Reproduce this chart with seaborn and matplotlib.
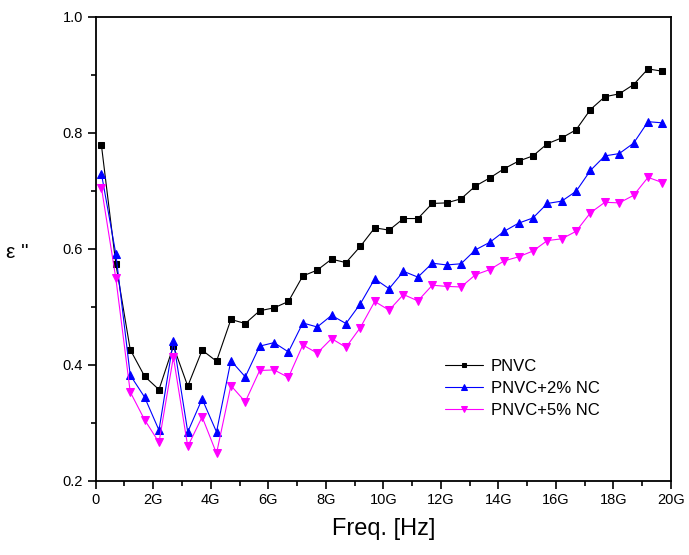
import matplotlib
matplotlib.use("Agg")
import matplotlib.pyplot as plt
from matplotlib.ticker import MultipleLocator, FuncFormatter
import seaborn as sns
import pandas as pd

# Frequency in GHz
freq = [0.2, 0.7, 1.2, 1.7, 2.2, 2.7, 3.2, 3.7, 4.2, 4.7,
        5.2, 5.7, 6.2, 6.7, 7.2, 7.7, 8.2, 8.7, 9.2, 9.7,
        10.2, 10.7, 11.2, 11.7, 12.2, 12.7, 13.2, 13.7, 14.2, 14.7,
        15.2, 15.7, 16.2, 16.7, 17.2, 17.7, 18.2, 18.7, 19.2, 19.7]

pnvc = [0.778, 0.574, 0.426, 0.380, 0.357, 0.432, 0.363, 0.425, 0.406, 0.478,
        0.471, 0.493, 0.498, 0.509, 0.553, 0.563, 0.582, 0.576, 0.604, 0.636,
        0.632, 0.652, 0.652, 0.678, 0.679, 0.686, 0.708, 0.722, 0.738, 0.751,
        0.760, 0.781, 0.791, 0.805, 0.840, 0.862, 0.867, 0.883, 0.910, 0.906]

pnvc_2 = [0.729, 0.591, 0.382, 0.344, 0.287, 0.441, 0.284, 0.341, 0.284, 0.407,
          0.379, 0.432, 0.438, 0.422, 0.472, 0.465, 0.485, 0.471, 0.505, 0.548,
          0.531, 0.561, 0.551, 0.575, 0.572, 0.574, 0.598, 0.611, 0.630, 0.644,
          0.653, 0.678, 0.682, 0.699, 0.735, 0.760, 0.764, 0.782, 0.819, 0.817]

pnvc_5 = [0.705, 0.549, 0.353, 0.305, 0.266, 0.413, 0.259, 0.310, 0.247, 0.364,
          0.336, 0.390, 0.391, 0.378, 0.434, 0.420, 0.445, 0.430, 0.464, 0.509,
          0.494, 0.521, 0.510, 0.537, 0.535, 0.534, 0.555, 0.564, 0.579, 0.586,
          0.596, 0.614, 0.617, 0.630, 0.662, 0.680, 0.679, 0.692, 0.723, 0.714]

labels = ["PNVC", "PNVC+2% NC", "PNVC+5% NC"]
colors = ["#000000", "#0000ff", "#ff00ff"]
markers = ["s", "^", "v"]
msizes = [4.0, 5.5, 5.5]

sns.set_style("ticks")
plt.rcParams["font.family"] = ["Liberation Sans", "DejaVu Sans"]
plt.rcParams["text.color"] = "black"
plt.rcParams["axes.labelcolor"] = "black"
plt.rcParams["xtick.color"] = "black"
plt.rcParams["ytick.color"] = "black"

fig = plt.figure(figsize=(6.89, 5.55), dpi=100)
ax = fig.add_axes([0.1389, 0.1339, 0.8350, 0.8360])

for vals, lab, col, mk, ms in zip([pnvc, pnvc_2, pnvc_5], labels, colors, markers, msizes):
    df = pd.DataFrame({"f": freq, "e": vals})
    sns.lineplot(data=df, x="f", y="e", ax=ax, color=col, marker=mk,
                 markersize=ms, markeredgecolor=col, markerfacecolor=col,
                 linewidth=0.8, label=lab)

ax.set_xlim(0, 20)
ax.set_ylim(0.2, 1.0)
ax.xaxis.set_major_locator(MultipleLocator(2))
ax.xaxis.set_minor_locator(MultipleLocator(1))
ax.yaxis.set_major_locator(MultipleLocator(0.2))
ax.yaxis.set_minor_locator(MultipleLocator(0.1))
ax.xaxis.set_major_formatter(FuncFormatter(lambda v, p: "0" if abs(v) < 1e-9 else f"{int(round(v))}G"))
ax.yaxis.set_major_formatter(FuncFormatter(lambda v, p: f"{v:.1f}"))

ax.tick_params(axis="both", which="major", direction="out", length=6, width=1.2,
               labelsize=10.5, pad=3, colors="black", labelcolor="black")
ax.tick_params(axis="both", which="minor", direction="out", length=3.5, width=1.2)
ax.tick_params(top=False, right=False, which="both")
for s in ax.spines.values():
    s.set_visible(True)
    s.set_linewidth(1.3)
    s.set_color("black")

ax.set_xlabel("Freq. [Hz]", fontsize=17, labelpad=8, color="black")
ax.set_ylabel('ε "', fontsize=15, rotation=0, color="black")
ax.yaxis.set_label_coords(-0.136, 0.471)

leg = ax.legend(loc="upper left", bbox_to_anchor=(0.595, 0.277), frameon=False,
                fontsize=12, handlelength=2.3, handletextpad=0.45,
                labelspacing=0.42, markerscale=0.75, borderaxespad=0)
for t in leg.get_texts():
    t.set_color("black")

fig.savefig("out.png", dpi=100)
